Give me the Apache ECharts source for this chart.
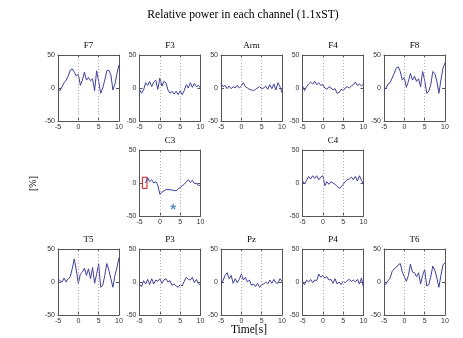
<!DOCTYPE html>
<html>
<head>
<meta charset="utf-8">
<script src="https://cdn.jsdelivr.net/npm/echarts@6/dist/echarts.min.js"></script>
<style>
  html, body { margin: 0; padding: 0; background: #fff; }
  #chart { width: 463px; height: 338px; }
</style>
</head>
<body>
<div id="chart"></div>
<script>
// Time axis (s) shared by every channel
const times = [-5, -4.5, -4, -3.5, -3, -2.5, -2, -1.5, -1, -0.5, 0, 0.5, 1, 1.5, 2, 2.5, 3, 3.5, 4, 4.5, 5, 5.5, 6, 6.5, 7, 7.5, 8, 8.5, 9, 9.5, 10];

// Relative power (%) per channel
const F7  = [-2, -4, 2, 8, 12, 18, 27, 29, 24, 18, 21, 4, 12, 24, 12, 16, 11, 14, -4, 26, 10, -8, 0, 12, 26, 27, 20, -3, 6, 22, 35];
const F3  = [-2, -8, -3, 8, 4, 10, 2, 9, 12, -2, 15, 3, 10, 8, -3, -8, -5, -9, -5, -10, -4, -10, -4, 5, 0, 8, 1, 7, 2, 4, 0];
const Arm = [7, 2, 4, -1, 3, -1, 2, 0, 4, 0, 3, 8, 2, 0, -2, -3, -4, -2, 0, 2, -1, 0, 3, -2, 5, -1, 6, -3, 8, 2, -7];
const F4  = [3, -4, 2, 6, 9, 6, 10, 5, 8, 4, 5, 0, -2, 2, 0, -3, -1, -8, -7, -2, -4, 0, 2, 0, 3, 5, 9, 4, 6, 3, 6];
const F8  = [-3, 0, 6, 8, 15, 22, 30, 32, 25, 12, 16, 1, 10, 22, 12, 18, 10, 14, 2, 25, 12, -8, -5, 5, 25, 22, 10, -8, 12, 30, 38];
const C3  = [null, null, null, 0, 8, 2, 5, 0, 2, -3, -17, -14, -12, -10, -10, -10, -11, -11, -12, -9, -7, -4, -2, 2, 5, 1, 4, -1, 0, -4, -3];
const C4  = [3, -1, 4, 10, 6, 11, 7, 11, 5, 9, 11, -4, 2, -2, 2, 0, -2, -5, -8, -6, -2, 2, 5, 6, 9, 5, 10, 3, 11, 4, -2];
const T5  = [5, 2, 0, 6, 0, 5, 8, 20, 35, 18, -2, 12, 15, 21, 10, 20, 5, 22, -2, 12, 27, -8, -5, 10, 28, 18, 5, -8, 10, 22, 37];
const P3  = [-3, -7, 2, -3, 4, -4, 5, -3, 3, 1, 5, -2, 3, 5, 0, 2, -5, -3, -6, -8, -4, -6, 1, 7, 4, 3, 7, -1, 4, -2, -5];
const Pz  = [-3, 2, 10, 14, 5, 10, -2, 5, -1, 4, 12, 3, 7, 0, 3, -5, -3, -7, -2, -8, -4, -3, 0, -3, 3, -2, 4, -1, -2, 5, 1];
const P4  = [0, -4, 3, 0, 4, -1, 3, 2, 12, 7, 10, 6, 8, 3, 4, -2, 5, -3, 0, -4, 1, -1, 2, 4, 1, 3, 0, 4, -3, 6, -8];
const T6  = [-5, -3, 2, 6, 16, 20, 22, 26, 28, 15, 8, 1, 10, 27, 15, 14, 8, 14, -3, 10, 19, -6, -4, 8, 24, 18, 6, -8, 10, 26, 29];

// Axis ticks
const xTicks = [-5, 10, 5];   // min, max, step
const yTicks = [-50, 50, 50]; // min, max, step
const eventLines = [0, 5];    // dotted reference times

// C3 annotations: highlighted box [x0, y0, x1, y1] and marked point [x, y]
const c3Box = [-4.3, 8.7, -3.15, -8.2];
const c3Star = [3.3, -36];

const channels = [
  { name: 'F7', values: F7 }, { name: 'F3', values: F3 }, { name: 'Arm', values: Arm },
  { name: 'F4', values: F4 }, { name: 'F8', values: F8 },
  { name: 'C3', values: C3 }, { name: 'C4', values: C4 },
  { name: 'T5', values: T5 }, { name: 'P3', values: P3 }, { name: 'Pz', values: Pz },
  { name: 'P4', values: P4 }, { name: 'T6', values: T6 }
];

// Panel placement: column / row slot for each channel, in order
const slots = [[0,0],[1,0],[2,0],[3,0],[4,0],[1,1],[3,1],[0,2],[1,2],[2,2],[3,2],[4,2]];
const colLeft = [58, 139.5, 221, 302.5, 384];
const rowTop = [55, 150, 249];
const panelW = 61, panelH = 66;

const lineColor = '#3f3f9c';
const boxColor = '#555';
const serif = '"Liberation Serif", "Times New Roman", serif';
const sans = '"Liberation Sans", Arial, sans-serif';

const grids = [], xAxes = [], yAxes = [], series = [];
const titles = [{
  text: 'Relative power in each channel (1.1xST)',
  left: 243, top: 9, textAlign: 'center', padding: 0,
  textStyle: { fontFamily: serif, fontSize: 11.7, fontWeight: 'normal', color: '#000' }
}];

channels.forEach((ch, i) => {
  const [c, r] = slots[i];
  const left = colLeft[c], top = rowTop[r];
  grids.push({ left: left, top: top, width: panelW, height: panelH });
  titles.push({
    text: ch.name, left: left + panelW / 2, top: top - 14, textAlign: 'center', padding: 0,
    textStyle: { fontFamily: serif, fontSize: 9, fontWeight: 'normal', color: '#000' }
  });
  const tick = { show: true, inside: true, length: 3, lineStyle: { color: boxColor, width: 1 } };
  const line = { show: true, onZero: false, lineStyle: { color: boxColor, width: 1 } };
  // bottom axis with labels, top axis for the box outline
  xAxes.push({
    gridIndex: i, type: 'value', position: 'bottom',
    min: xTicks[0], max: xTicks[1], interval: xTicks[2],
    axisLine: line, axisTick: tick, splitLine: { show: false },
    axisLabel: { fontFamily: sans, fontSize: 7, color: '#333', margin: 3 }
  });
  xAxes.push({
    gridIndex: i, type: 'value', position: 'top',
    min: xTicks[0], max: xTicks[1], interval: xTicks[2],
    axisLine: line, axisTick: tick, splitLine: { show: false }, axisLabel: { show: false }
  });
  yAxes.push({
    gridIndex: i, type: 'value', position: 'left',
    min: yTicks[0], max: yTicks[1], interval: yTicks[2],
    axisLine: line, axisTick: tick, splitLine: { show: false },
    axisLabel: { fontFamily: sans, fontSize: 7, color: '#333', margin: 3 }
  });
  yAxes.push({
    gridIndex: i, type: 'value', position: 'right',
    min: yTicks[0], max: yTicks[1], interval: yTicks[2],
    axisLine: line, axisTick: tick, splitLine: { show: false }, axisLabel: { show: false }
  });

  const s = {
    type: 'line', name: ch.name,
    xAxisIndex: 2 * i, yAxisIndex: 2 * i,
    data: times.map((t, k) => [t, ch.values[k]]),
    showSymbol: false, symbol: 'none', connectNulls: false,
    lineStyle: { color: lineColor, width: 1 },
    silent: true, animation: false,
    markLine: {
      silent: true, symbol: 'none', label: { show: false },
      lineStyle: { color: '#c0a8b4', type: [1, 2], width: 1 },
      data: eventLines.map(t => ({ xAxis: t }))
    }
  };
  if (ch.name === 'C3') {
    s.markArea = {
      silent: true,
      itemStyle: { color: 'rgba(0,0,0,0)', borderColor: '#e01010', borderWidth: 1 },
      data: [[{ coord: [c3Box[0], c3Box[1]] }, { coord: [c3Box[2], c3Box[3]] }]]
    };
  }
  series.push(s);

  if (ch.name === 'C3') {
    series.push({
      type: 'scatter', xAxisIndex: 2 * i, yAxisIndex: 2 * i,
      data: [c3Star], symbolSize: 1, itemStyle: { color: 'rgba(0,0,0,0)' },
      silent: true, animation: false,
      label: {
        show: true, position: 'inside', formatter: '*', offset: [0, 3],
        fontFamily: sans, fontSize: 15, fontWeight: 'bold', color: '#2f6fb5'
      }
    });
  }
});

const chart = echarts.init(document.getElementById('chart'), null, { renderer: 'canvas' });
chart.setOption({
  backgroundColor: '#fff',
  animation: false,
  title: titles,
  grid: grids,
  xAxis: xAxes,
  yAxis: yAxes,
  series: series,
  graphic: [
    {
      type: 'text', left: 28, top: 176, rotation: Math.PI / 2,
      style: { text: '[%]', font: '10px ' + serif, fill: '#000' }
    },
    {
      type: 'text', left: 231, top: 324,
      style: { text: 'Time[s]', font: '11.5px ' + serif, fill: '#000' }
    }
  ]
});
</script>
</body>
</html>
